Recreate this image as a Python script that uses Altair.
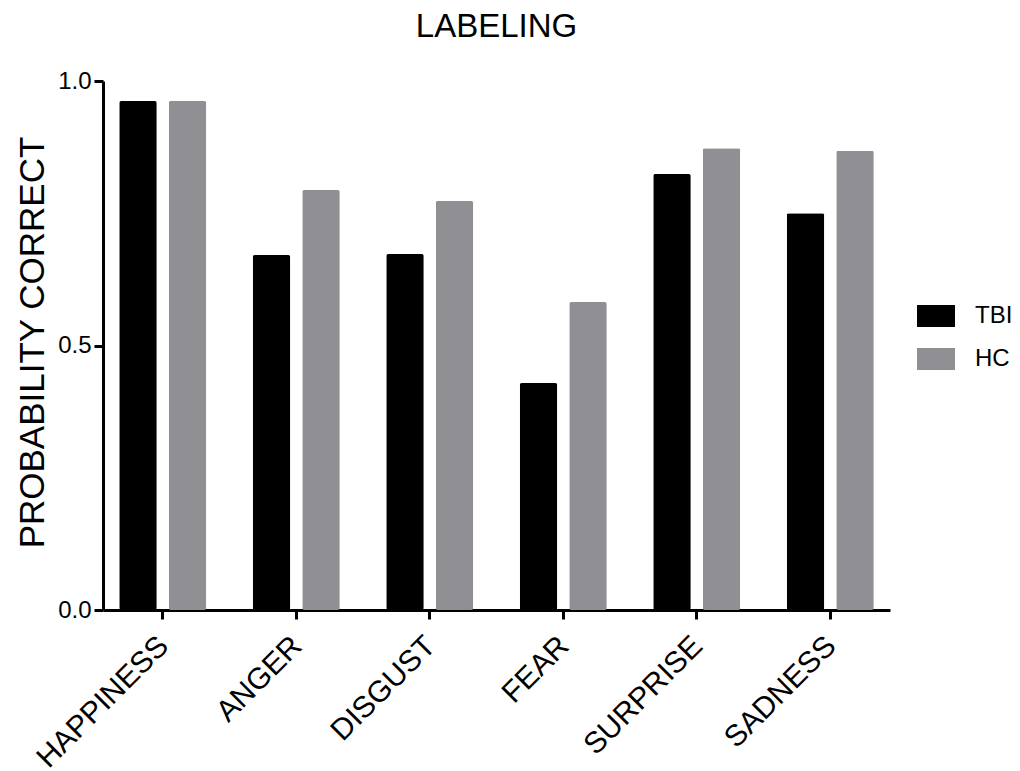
import altair as alt
import pandas as pd

categories = ["HAPPINESS", "ANGER", "DISGUST", "FEAR", "SURPRISE", "SADNESS"]
groups = ["TBI", "HC"]
tbi = [0.962, 0.671, 0.673, 0.429, 0.824, 0.750]
hc = [0.962, 0.794, 0.773, 0.582, 0.873, 0.868]
colors = ["#000000", "#909094"]

rows = []
for c, t, h in zip(categories, tbi, hc):
    rows.append({"emotion": c, "group": "TBI", "value": t})
    rows.append({"emotion": c, "group": "HC", "value": h})
df = pd.DataFrame(rows)

FONT = "Liberation Sans"

chart = alt.Chart(df).mark_bar(cornerRadius=2).encode(
    x=alt.X(
        "emotion:N",
        sort=categories,
        scale=alt.Scale(paddingInner=0.348, paddingOuter=0.1215),
        axis=alt.Axis(
            title=None,
            labelAngle=-45,
            labelAlign="right",
            labelBaseline="middle",
            labelFontSize=30,
            labelPadding=22,
            labelOffset=1,
            labelColor="#000000",
            labelFont=FONT,
            tickSize=9,
            tickWidth=3,
            tickColor="#000000",
            domainWidth=3,
            domainColor="#000000",
        ),
    ),
    xOffset=alt.XOffset(
        "group:N", sort=groups, scale=alt.Scale(paddingInner=0.242, paddingOuter=0)
    ),
    y=alt.Y(
        "value:Q",
        scale=alt.Scale(domain=[0, 1]),
        axis=alt.Axis(
            values=[0, 0.5, 1.0],
            format=".1f",
            title="PROBABILITY CORRECT",
            titleFontSize=35,
            titleFontWeight="normal",
            titleFont=FONT,
            titleColor="#000000",
            titleBaseline="alphabetic",
            titleAngle=-90,
            titleX=-60,
            titleY=261,
            labelFontSize=24,
            labelFont=FONT,
            labelColor="#000000",
            labelPadding=3,
            tickSize=9,
            tickWidth=3,
            tickColor="#000000",
            domainWidth=3,
            domainColor="#000000",
            grid=False,
        ),
    ),
    color=alt.Color(
        "group:N",
        sort=groups,
        scale=alt.Scale(domain=groups, range=colors),
        legend=alt.Legend(
            title=None,
            orient="none",
            legendX=814,
            legendY=216,
            symbolType="M-1,-0.58H1V0.58H-1Z",
            symbolSize=1444,
            symbolStrokeWidth=0,
            symbolOpacity=1,
            labelFontSize=24,
            labelFont=FONT,
            labelColor="#000000",
            labelOffset=20,
            rowPadding=12,
        ),
    ),
).properties(
    width=787,
    height=529,
    title=alt.TitleParams(
        "LABELING", fontSize=33, font=FONT, fontWeight="normal", color="#000000", offset=25
    ),
    autosize=alt.AutoSizeParams(type="none"),
    padding={"left": 95, "top": 73, "right": 122, "bottom": 160},
).configure_view(stroke=None)

chart.save("out.html", embed_options={"renderer": "svg", "actions": False})
